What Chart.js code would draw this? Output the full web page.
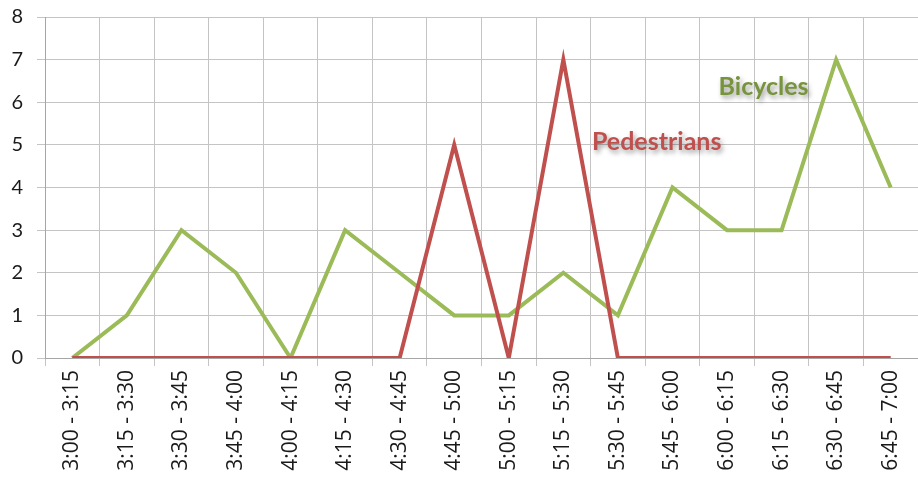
<!DOCTYPE html>
<html>
<head>
<meta charset="utf-8">
<script src="https://cdn.jsdelivr.net/npm/chart.js@4"></script>
<style>
  html, body { margin: 0; padding: 0; background: #fff; }
  #wrap { width: 918px; height: 483px; }
</style>
</head>
<body>
<div id="wrap"><canvas id="chart"></canvas></div>
<script>
const periods = ["3:00 - 3:15", "3:15 - 3:30", "3:30 - 3:45", "3:45 - 4:00", "4:00 - 4:15", "4:15 - 4:30",
    "4:30 - 4:45", "4:45 - 5:00", "5:00 - 5:15", "5:15 - 5:30", "5:30 - 5:45", "5:45 - 6:00",
    "6:00 - 6:15", "6:15 - 6:30", "6:30 - 6:45", "6:45 - 7:00"];
const bicycles = [0, 1, 3, 2, 0, 3, 2, 1, 1, 2, 1, 4, 3, 3, 7, 4];
const pedestrians = [0, 0, 0, 0, 0, 0, 0, 5, 0, 7, 0, 0, 0, 0, 0, 0];

// label tempel di dalam grafik (posisi dalam satuan data)
const seriesLabels = [
    { text: "Bicycles", x: 12.67, y: 6.36, color: "#77933c" },
    { text: "Pedestrians", x: 10.71, y: 5.07, color: "#c0504d" }
];

const labelPlugin = {
    id: "seriesLabels",
    afterDatasetsDraw(chart) {
        const ctx = chart.ctx;
        const xs = chart.scales.x, ys = chart.scales.y;
        ctx.save();
        ctx.font = "bold 25px Lato, 'Open Sans', sans-serif";
        ctx.textAlign = "center";
        ctx.textBaseline = "middle";
        seriesLabels.forEach(l => {
            const px = xs.getPixelForValue(0) + (xs.getPixelForValue(1) - xs.getPixelForValue(0)) * l.x;
            const py = ys.getPixelForValue(l.y);
            ctx.shadowColor = "rgba(0,0,0,0.4)";
            ctx.shadowBlur = 5;
            ctx.shadowOffsetX = 2;
            ctx.shadowOffsetY = 3;
            ctx.fillStyle = l.color;
            ctx.fillText(l.text, px, py);
        });
        ctx.restore();
    }
};

new Chart(document.getElementById("chart").getContext("2d"), {
    type: "line",
    data: {
        labels: periods,
        datasets: [
            { label: "Pedestrians", data: pedestrians, borderColor: "#c0504d", borderWidth: 4,
              pointRadius: 0, tension: 0, fill: false },
            { label: "Bicycles", data: bicycles, borderColor: "#9bbb59", borderWidth: 4,
              pointRadius: 0, tension: 0, fill: false }
        ]
    },
    options: {
        responsive: true,
        maintainAspectRatio: false,
        animation: false,
        layout: { padding: { top: 17, right: 0, left: 0, bottom: 0 } },
        plugins: { legend: { display: false }, tooltip: { enabled: false } },
        scales: {
            x: {
                offset: true,
                grid: { offset: true, color: "#c4c4c4", tickLength: 8, lineWidth: 1 },
                border: { color: "#a6a6a6" },
                ticks: {
                    color: "#1a1a1a",
                    font: { family: "'Open Sans', Lato, sans-serif", size: 21 },
                    minRotation: 90, maxRotation: 90, autoSkip: false, padding: 4
                },
                afterFit(scale) {
                    scale.height = 125;
                    scale.paddingTop = 0; scale.paddingBottom = 0;
                    scale.paddingLeft = 0; scale.paddingRight = 0;
                }
            },
            y: {
                min: 0, max: 8,
                grid: { color: "#c4c4c4", tickLength: 8, lineWidth: 1 },
                border: { color: "#a6a6a6" },
                ticks: {
                    stepSize: 1, color: "#1a1a1a", padding: 14,
                    font: { family: "Lato, 'Open Sans', sans-serif", size: 20 }
                },
                afterFit(scale) {
                    scale.width = 45;
                    scale.paddingTop = 0; scale.paddingBottom = 0;
                }
            }
        }
    },
    plugins: [labelPlugin]
});
</script>
</body>
</html>
